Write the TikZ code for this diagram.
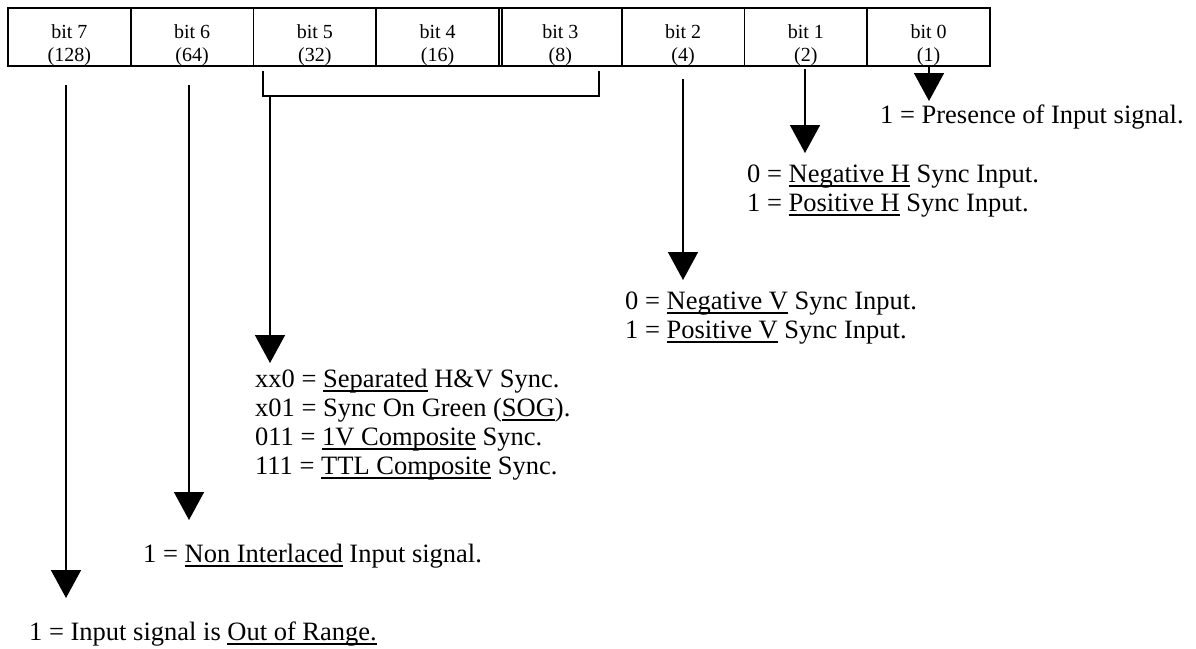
\documentclass[tikz,border=0pt]{standalone}
\usepackage{fontspec}
\setmainfont{Liberation Serif}
\usetikzlibrary{arrows.meta}
\newcommand\ulx[1]{\setbox0\hbox{#1}\rlap{\rule[-4.8pt]{\wd0}{1.5pt}}\box0\relax}
\begin{document}
\begin{tikzpicture}[x=1pt,y=-1pt,
  cellbox/.style={draw,line width=1.6pt,minimum width=122.75pt,minimum height=58pt,inner sep=0pt,outer sep=0pt},
  lbl/.style={font=\fontsize{20}{23}\selectfont,anchor=base,inner sep=0pt},
  txt/.style={font=\fontsize{26.5}{29}\selectfont,anchor=base west,inner sep=0pt},
  arr/.style={line width=1.6pt,-{Triangle[width=30pt,length=28pt]}},
  plain/.style={line width=1.6pt}]
\useasboundingbox (0,0) rectangle (1196,648);
\foreach \k/\b/\v in {0/7/128,1/6/64,2/5/32,3/4/16,4/3/8,5/2/4,6/1/2,7/0/1} {
  \node[cellbox] (c\b) at ({69.375+122.75*\k},37) {};
  \node[lbl] (n\b) at ({69.375+122.75*\k},38) {bit \b};
  \node[lbl] (v\b) at ({69.375+122.75*\k},61) {(\v)};
}
\draw[plain] ([xshift=3pt]c3.north west) -- ([xshift=3pt]c3.south west);
% coordinates
\coordinate (s7) at (66,85);   \coordinate (e7) at (66,598);
\coordinate (s6) at (189,85);  \coordinate (e6) at (189,520);
\coordinate (k1) at (263,71);  \coordinate (k2) at (263,96);
\coordinate (k3) at (599,96);  \coordinate (k4) at (599,71);
\coordinate (s5) at (270,96);  \coordinate (e5) at (270,363);
\coordinate (s2) at (683,79);  \coordinate (e2) at (683,280);
\coordinate (s1) at (805,69);  \coordinate (e1) at (805,153);
\coordinate (s0) at (929,66);  \coordinate (e0) at (929,101);
\draw[plain] (k1) -- (k2) -- (k3) -- (k4);
\draw[arr] (s7) -- (e7);
\draw[arr] (s6) -- (e6);
\draw[arr] (s5) -- (e5);
\draw[arr] (s2) -- (e2);
\draw[arr] (s1) -- (e1);
\draw[arr] (s0) -- (e0);
% texts
\node[txt] (t0) at (880,123) {1 = Presence of Input signal.};
\node[txt] (t1a) at (747,182) {0 = \ulx{Negative H} Sync Input.};
\node[txt] (t1b) at (747,211) {1 = \ulx{Positive H} Sync Input.};
\node[txt] (t2a) at (625,309) {0 = \ulx{Negative V} Sync Input.};
\node[txt] (t2b) at (625,338) {1 = \ulx{Positive V} Sync Input.};
\node[txt] (t5a) at (255,387) {xx0 = \ulx{Separated} H\&V Sync.};
\node[txt] (t5b) at (255,416) {x01 = Sync On Green (\ulx{SOG}).};
\node[txt] (t5c) at (255,445) {011 = \ulx{1V Composite} Sync.};
\node[txt] (t5d) at (255,474) {111 = \ulx{TTL Composite} Sync.};
\node[txt] (t6) at (143,562) {1 = \ulx{Non Interlaced} Input signal.};
\node[txt] (t7) at (29,640) {1 = Input signal is \ulx{Out of Range.}};
\end{tikzpicture}
\end{document}
